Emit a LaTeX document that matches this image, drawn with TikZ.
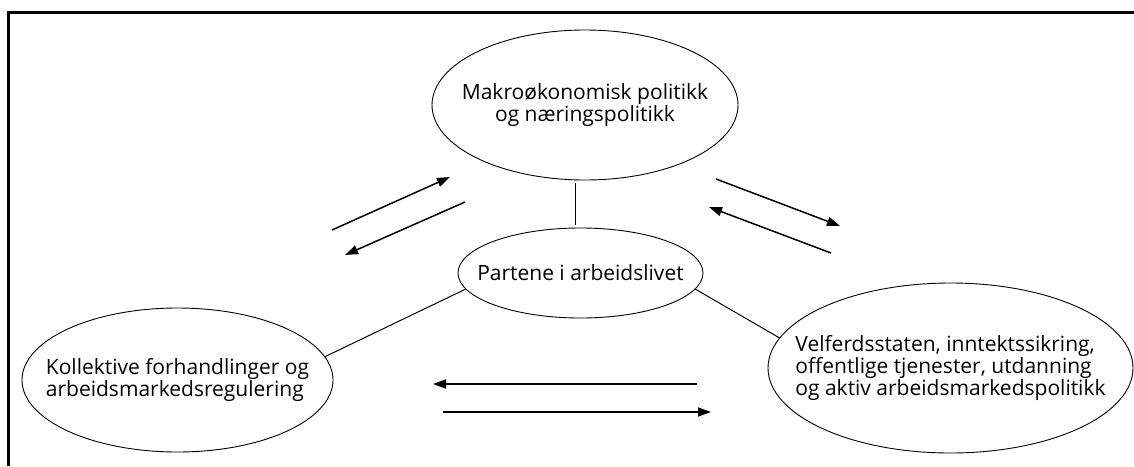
\documentclass[tikz,border=0pt]{standalone}
\usepackage{fontspec}
\setmainfont{Open Sans}
\usetikzlibrary{shapes.geometric,arrows.meta}
\begin{document}
\begin{tikzpicture}[x=1pt,y=-1pt,
  ell/.style={draw, ellipse, line width=0.9pt, inner xsep=-70pt, inner ysep=0pt,
    font=\fontsize{21}{20.5}\selectfont},
  link/.style={line width=1pt},
  arr/.style={line width=1.5pt, -{Triangle[length=13pt,width=9pt]}},
  frameline/.style={line width=2.6pt}]
\useasboundingbox (0,0) rectangle (1134,466);
\draw[frameline] (8.5,466) -- (8.5,12.5) -- (1134,12.5);

\node[ell, align=center, minimum width=306pt, minimum height=150pt] (top) at (585,105)
  {Makroøkonomisk politikk\\og næringspolitikk};
\node[ell, align=center, minimum width=245pt, minimum height=90pt] (cen) at (580.5,273)
  {Partene i arbeidslivet};
\node[ell, align=left, minimum width=311pt, minimum height=144pt] (left) at (177.5,380)
  {Kollektive forhandlinger og\\arbeidsmarkedsregulering};
\node[ell, align=left, minimum width=365pt, minimum height=170pt] (right) at (950.5,368)
  {Velferdsstaten, inntektssikring,\\offentlige tjenester, utdanning\\og aktiv arbeidsmarkedspolitikk};

\draw[link, shorten <=3pt, shorten >=3pt] ([xshift=-10pt]top.south) -- ([xshift=-10pt]top.south |- cen.north);
\draw[link] (cen.188) -- (left.9);
\draw[link] (cen.-8) -- (right.170);

\coordinate (a1s) at (332,230); \coordinate (a1e) at (450,177);
\coordinate (a2s) at (465,202); \coordinate (a2e) at (345,255);
\coordinate (a3s) at (716,179); \coordinate (a3e) at (840,226);
\coordinate (a4s) at (831,253); \coordinate (a4e) at (709,207);
\coordinate (a5s) at (697,384); \coordinate (a5e) at (433,384);
\coordinate (a6s) at (443,412); \coordinate (a6e) at (711,412);
\draw[arr] (a1s) -- (a1e);
\draw[arr] (a2s) -- (a2e);
\draw[arr] (a3s) -- (a3e);
\draw[arr] (a4s) -- (a4e);
\draw[arr] (a5s) -- (a5e);
\draw[arr] (a6s) -- (a6e);
\end{tikzpicture}
\end{document}
